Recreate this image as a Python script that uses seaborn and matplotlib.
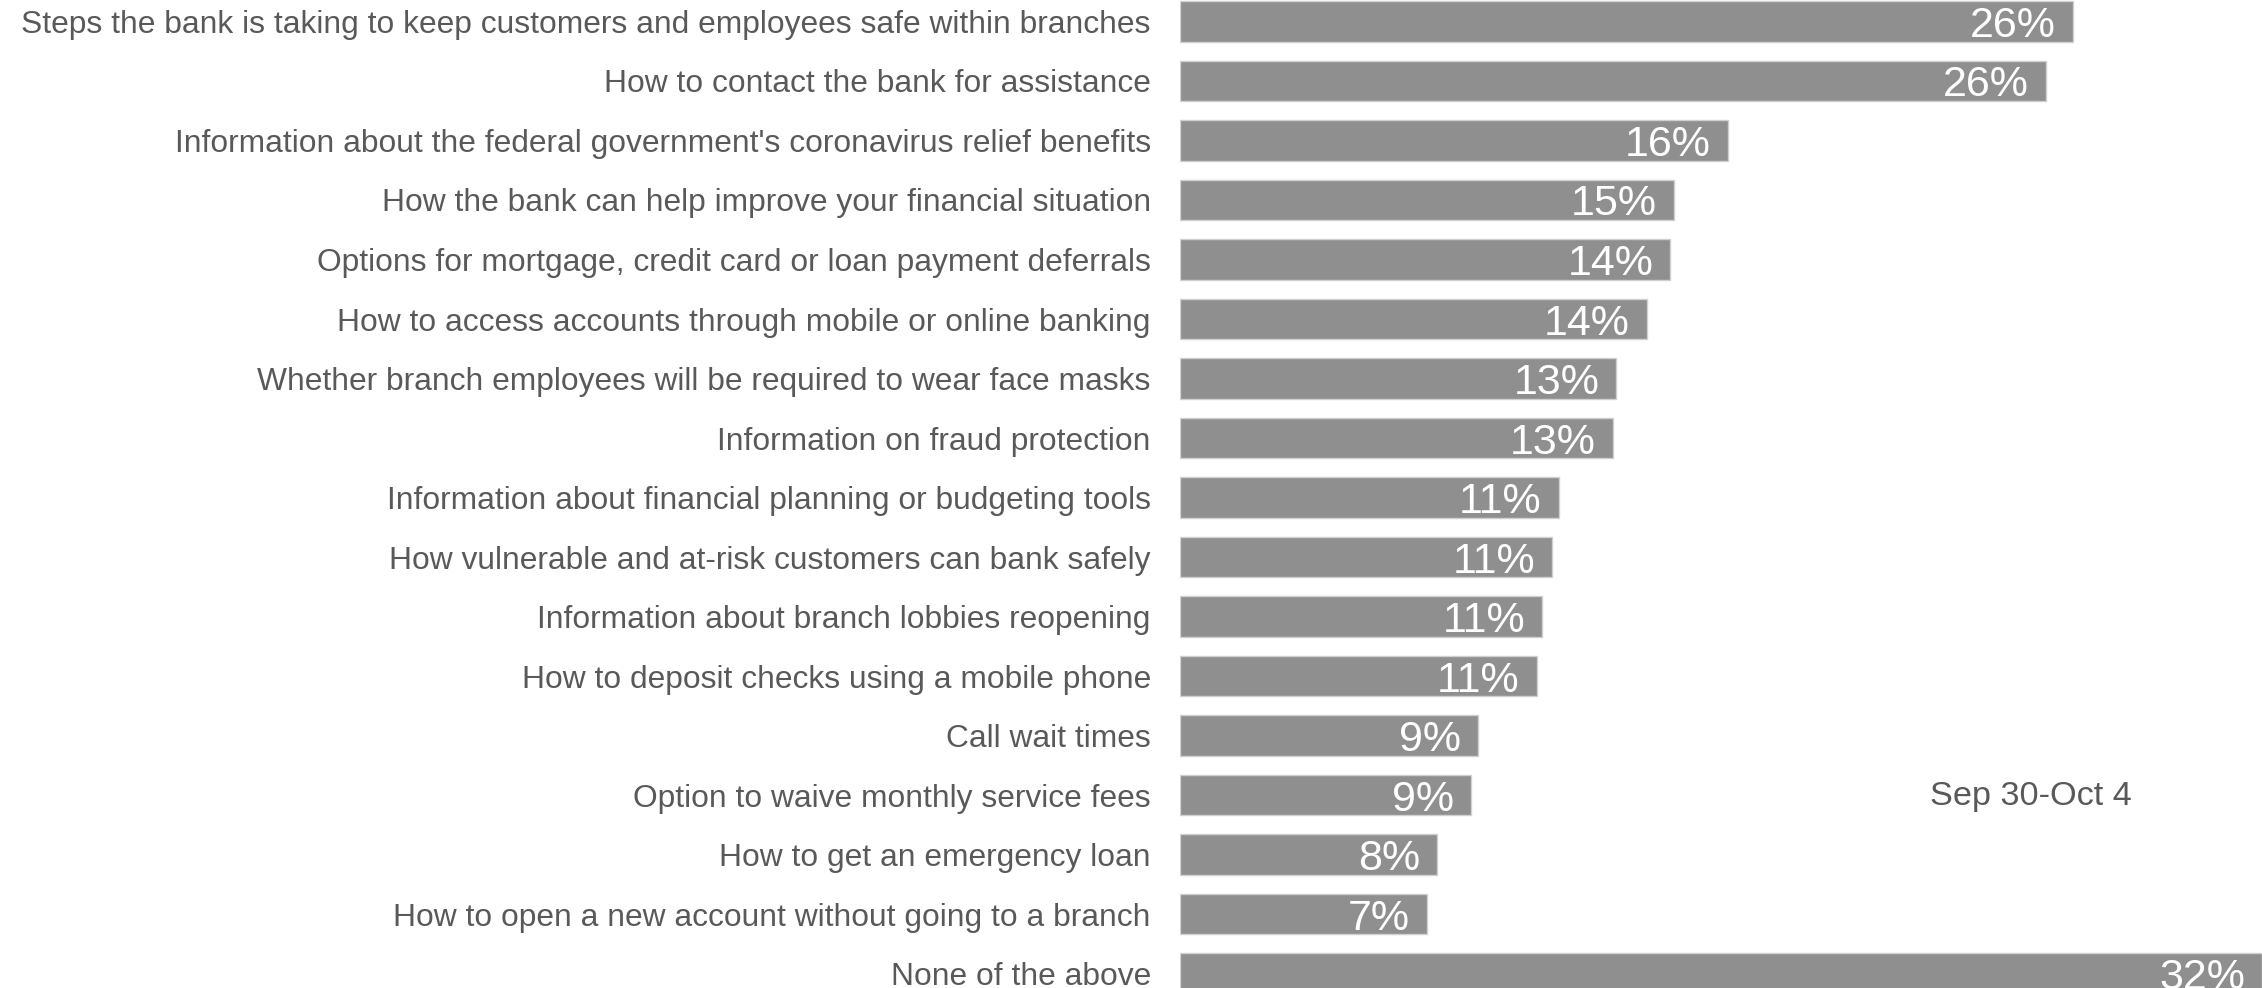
#!/usr/bin/env python3
"""
Horizontal bar chart: what customers want to hear from their bank.
"""

import pandas as pd
import matplotlib.pyplot as plt
import seaborn as sns

# Data
categories = [
    "Steps the bank is taking to keep customers and employees safe within branches",
    "How to contact the bank for assistance",
    "Information about the federal government's coronavirus relief benefits",
    "How the bank can help improve your financial situation",
    "Options for mortgage, credit card or loan payment deferrals",
    "How to access accounts through mobile or online banking",
    "Whether branch employees will be required to wear face masks",
    "Information on fraud protection",
    "Information about financial planning or budgeting tools",
    "How vulnerable and at-risk customers can bank safely",
    "Information about branch lobbies reopening",
    "How to deposit checks using a mobile phone",
    "Call wait times",
    "Option to waive monthly service fees",
    "How to get an emergency loan",
    "How to open a new account without going to a branch",
    "None of the above",
]
values = [26.4, 25.6, 16.2, 14.6, 14.5, 13.8, 12.9, 12.8,
          11.2, 11.0, 10.7, 10.55, 8.8, 8.6, 7.6, 7.3, 32.0]
series_name = "Sep 30-Oct 4"

df = pd.DataFrame({'item': categories, 'share': values})

sns.set_style("white")
plt.rcParams['font.family'] = ['Liberation Sans', 'DejaVu Sans']

fig = plt.figure(figsize=(22.62, 9.88), dpi=100)
ax = fig.add_axes([1180 / 2262, 0, 1 - 1180 / 2262, 1])

sns.barplot(data=df, y='item', x='share', orient='h', color='#8f8f8f',
            saturation=1, width=0.68, edgecolor='#d0d0d0', linewidth=1, ax=ax)

ax.set_xlim(0, 32.0)
ax.set_ylim(16.24, -0.36)

# value labels inside bar ends
for i, v in enumerate(values):
    ax.text(v - 0.5, i, f"{round(v)}%", ha='right', va='center_baseline',
            color='white', fontsize=31)

ax.set_xlabel('')
ax.set_ylabel('')
ax.set_xticks([])
ax.tick_params(axis='y', length=0, pad=21, labelsize=22.9, labelcolor='#595959')
for s in ax.spines.values():
    s.set_visible(False)

# series name, sitting where a legend would
ax.text((1930 - 1180) / 1082, 1 - 805 / 988, series_name, transform=ax.transAxes,
        ha='left', va='baseline', fontsize=24.7, color='#595959')

plt.savefig('out.png', dpi=100)
print("saved out.png")
